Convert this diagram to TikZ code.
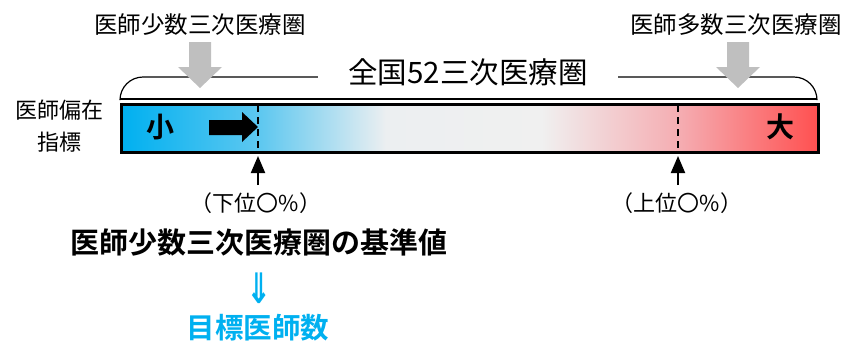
\documentclass[tikz,border=0pt]{standalone}
\usepackage{fontspec}
\setmainfont{Noto Sans CJK JP}[BoldFont={Noto Sans CJK JP Bold}]
\newfontfamily\arrowfont{DejaVu Sans}
\usetikzlibrary{arrows.meta}
\definecolor{barblue}{RGB}{0,176,240}
\definecolor{barred}{RGB}{255,80,80}
\definecolor{barsky}{RGB}{95,200,240}
\definecolor{barpale}{RGB}{236,239,241}
\definecolor{bargrey}{RGB}{240,240,240}
\definecolor{barpink}{RGB}{245,172,177}
\definecolor{arrowgray}{RGB}{191,191,191}
\pgfdeclarehorizontalshading{barshade}{100bp}{%
  color(0bp)=(barblue);
  color(25bp)=(barblue);
  color(35.03bp)=(barsky);
  color(43.98bp)=(barpale);
  color(55.09bp)=(bargrey);
  color(65.11bp)=(barpink);
  color(75bp)=(barred);
  color(100bp)=(barred)}
\tikzset{
  lbl/.style={inner sep=0pt, font=\fontsize{23.5}{26}\selectfont},
  pct/.style={inner sep=0pt, font=\fontsize{22}{24}\selectfont},
  bigbold/.style={inner sep=0pt, font=\bfseries\fontsize{29}{32}\selectfont},
  graydown/.style={fill=arrowgray},
  ptr/.style={line width=2pt, -{Triangle[length=17pt,width=14pt]}},
  cut/.style={draw=black, line width=2pt, dash pattern=on 7pt off 5pt},
}
\begin{document}
\begin{tikzpicture}[x=1pt,y=-1pt]
\useasboundingbox (0,0) rectangle (843,341);
% bracket
\draw[line width=1.2pt, rounded corners=23pt] (120,99) -- (120,77) -- (817,77) -- (817,99);
\draw[line width=1.2pt] (120,99) -- (817,99);
\node[fill=white, minimum width=300pt, minimum height=50pt, inner sep=0pt,
      font=\fontsize{29.5}{32}\selectfont] (all) at (468,72) {全国52三次医療圏};
% top labels
\node[lbl] (low) at (200,25) {医師少数三次医療圏};
\node[lbl] (high) at (736,25) {医師多数三次医療圏};
% gray arrows
\fill[graydown] (189,42) -- (211,42) -- (211,67) -- (222,67) -- (200,88) -- (178,67) -- (189,67) -- cycle;
\fill[graydown] (727,42) -- (749,42) -- (749,67) -- (760,67) -- (738,88) -- (716,67) -- (727,67) -- cycle;
% bar
\node[draw, line width=3pt, shading=barshade, minimum width=697pt, minimum height=48pt,
      inner sep=0pt, anchor=north west] (bar) at (120,103) {};
\coordinate (cutLt) at (258,105);
\coordinate (cutLb) at (258,151);
\coordinate (cutRt) at (678,105);
\coordinate (cutRb) at (678,151);
\draw[cut] (cutLt) -- (cutLb);
\draw[cut] (cutRt) -- (cutRb);
% black arrow in bar
\fill (209,120) -- (242,120) -- (242,112) -- (258,127) -- (242,142) -- (242,135) -- (209,135) -- cycle;
\node[inner sep=0pt, font=\bfseries\fontsize{28}{30}\selectfont] (small) at (160,127) {小};
\node[inner sep=0pt, font=\bfseries\fontsize{28}{30}\selectfont] (large) at (780,127) {大};
% left label
\node[inner sep=0pt, align=center, font=\fontsize{22}{32}\selectfont] (ylab) at (59,126) {医師偏在\\指標};
% percent labels and pointers
\node[pct] (lowpct) at (256,203) {（下位〇\%）};
\node[pct] (highpct) at (677,203) {（上位〇\%）};
\coordinate (pL) at (258,185);
\coordinate (pR) at (678,185);
\draw[ptr] (pL) -- (258,156);
\draw[ptr] (pR) -- (678,156);
% bottom
\node[bigbold] (base) at (259,242) {医師少数三次医療圏の基準値};
\node[inner sep=0pt, text=barblue, font=\arrowfont\bfseries\fontsize{42}{46}\selectfont] (darr) at (259,288) {\scalebox{0.72}[1]{⇓}};
\node[bigbold, text=barblue, font=\bfseries\fontsize{28.5}{30}\selectfont] (target) at (258,328) {目標医師数};
\end{tikzpicture}
\end{document}
